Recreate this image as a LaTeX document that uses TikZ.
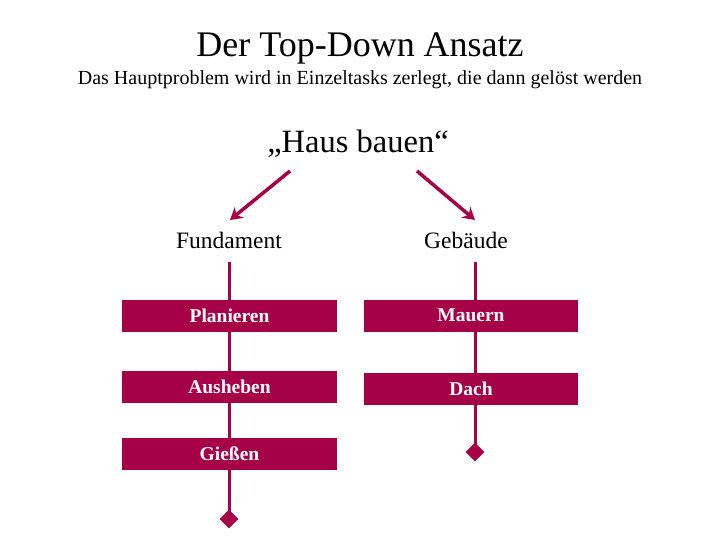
\documentclass[tikz,border=0pt]{standalone}
\usepackage{fontspec}
\setmainfont{Liberation Serif}
\usetikzlibrary{arrows.meta,shapes.geometric}
\definecolor{wine}{RGB}{166,0,70}
\begin{document}
\begin{tikzpicture}[x=1pt,y=-1pt,
  task/.style={fill=wine,text=white,font=\fontsize{19.5}{22}\selectfont\bfseries,minimum width=215pt,minimum height=32pt,inner sep=0pt},
  flow/.style={draw=wine,line width=3pt},
  arr/.style={draw=wine,line width=3.5pt,-{Stealth[length=12pt,width=14pt]}},
  endmark/.style={diamond,fill=wine,minimum width=19pt,minimum height=19pt,inner sep=0pt},
  lbl/.style={font=\fontsize{23.5}{26}\selectfont,inner sep=0pt}]
\useasboundingbox (0,0) rectangle (720,540);
\node[font=\fontsize{36}{40}\selectfont,inner sep=0pt] (title) at (360,48) {Der Top-Down Ansatz};
\node[font=\fontsize{20}{24}\selectfont,inner sep=0pt] (sub) at (360,80) {Das Hauptproblem wird in Einzeltasks zerlegt, die dann gelöst werden};
\node[font=\fontsize{32.5}{36}\selectfont,inner sep=0pt] (haus) at (358,144) {„Haus bauen“};
\node[lbl] (fund) at (229,240) {Fundament};
\node[lbl] (geb) at (466,240) {Gebäude};
\coordinate (la) at (290,171);
\coordinate (lt) at (230,220);
\coordinate (ra) at (417,171);
\coordinate (rt) at (475,220);
\draw[arr] (la) -- (lt);
\draw[arr] (ra) -- (rt);
\coordinate (ltop) at (229,262);
\coordinate (rtop) at (475,262);
\node[endmark] (lend) at (229,519) {};
\node[endmark] (rend) at (475,452) {};
\draw[flow] (ltop) -- (lend.center);
\draw[flow] (rtop) -- (rend.center);
\node[task] (p1) at (229.5,315.5) {Planieren};
\node[task] (p2) at (229.5,387) {Ausheben};
\node[task] (p3) at (229.5,454) {Gießen};
\node[task,minimum width=214pt] (m1) at (471,315.5) {Mauern};
\node[task,minimum width=214pt] (m2) at (471,389) {Dach};
\end{tikzpicture}
\end{document}
